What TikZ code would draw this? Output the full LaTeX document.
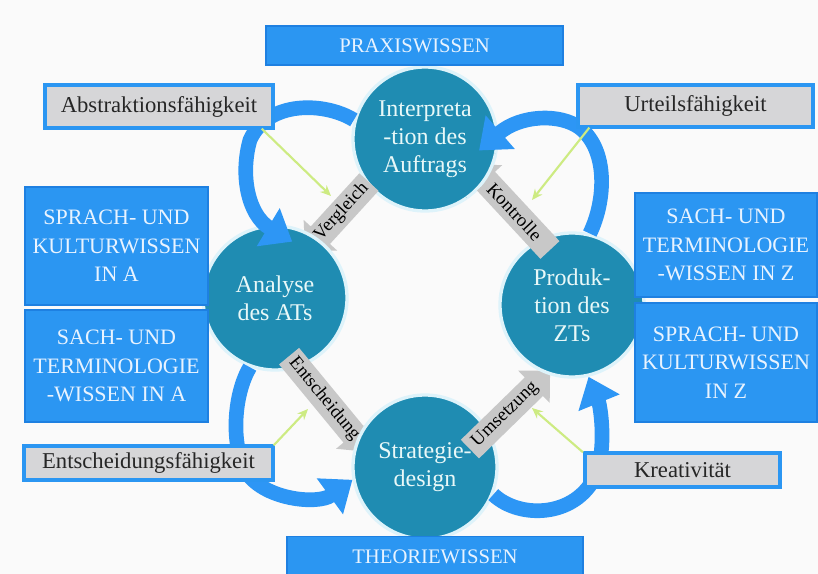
\documentclass[tikz,border=0pt]{standalone}
\usepackage{fontspec}
\setmainfont{Liberation Serif}
\usetikzlibrary{arrows.meta,calc}
\definecolor{bgcol}{RGB}{250,250,250}
\definecolor{boxblue}{RGB}{43,150,242}
\definecolor{boxedge}{RGB}{30,128,225}
\definecolor{boxtext}{RGB}{232,243,255}
\definecolor{tealc}{RGB}{31,140,178}
\definecolor{glow}{RGB}{222,243,250}
\definecolor{circtext}{RGB}{232,248,248}
\definecolor{greyfill}{RGB}{214,214,216}
\definecolor{arrowgrey}{RGB}{200,200,200}
\definecolor{arcblue}{RGB}{45,150,245}
\definecolor{hintgreen}{RGB}{205,235,130}
\newcommand\garrow[6]{%
  \begin{scope}[shift={#2}, rotate=#3]
    \fill[arrowgrey, xscale=#5, x=1pt, y=1pt]
      (-#4/2,-9.75) -- (#4/2-17,-9.75) -- (#4/2-17,-17) -- (#4/2,0)
      -- (#4/2-17,17) -- (#4/2-17,9.75) -- (-#4/2,9.75) -- cycle;
    \node[arrowtext, transform shape] (#1) at (-#5*5pt,0pt) {#6};
  \end{scope}}
\begin{document}
\begin{tikzpicture}[x=0.75pt,y=-0.75pt,
  bluebox/.style={rectangle, fill=boxblue, draw=boxedge, line width=1.2pt,
    text=boxtext, align=center, inner sep=0pt,
    font=\fontsize{16.5}{21.5}\selectfont},
  greybox/.style={rectangle, fill=greyfill, draw=boxblue, line width=3pt,
    text=black!85, inner sep=0pt, font=\fontsize{17}{20}\selectfont},
  phase/.style={circle, fill=tealc, draw=glow, line width=2.5pt,
    minimum size=108pt, inner sep=0pt, align=center, text=circtext,
    font=\fontsize{18}{21}\selectfont},
  arrowtext/.style={inner sep=0pt, text=black, font=\fontsize{14}{14}\selectfont},
  curvearrow/.style={draw=arcblue, line width=11pt,
    -{Triangle[length=21pt,width=32pt]}},
  hint/.style={draw=hintgreen, line width=1.6pt,
    -{Stealth[length=8pt,width=7pt]}}
]
\useasboundingbox (0,0) rectangle (818,574);
\fill[bgcol] (0,0) rectangle (818,574);

% phases and grey block arrows: each arrow lies over its source, under its target
\node[phase] (interp) at (425,139) {Interpreta\\-tion des\\Auftrags};
\garrow{vergl}{(337,217)}{47.6}{71}{-1}{Vergleich}
\node[phase] (analyse) at (275,298) {Analyse\\des ATs};
\garrow{entsch}{(328.5,404)}{-50.5}{93}{1}{Entscheidung}
\node[phase] (strat) at (425,467) {Strategie-\\design};
\garrow{umsetz}{(510,410)}{44.3}{84}{1}{Umsetzung}
\node[phase] (prod) at (572,305) {Produk-\\tion des\\ZTs};
\garrow{kontr}{(510,207)}{-47.1}{88}{-1}{Kontrolle}
% the head of "Kontrolle" goes under the first phase
\begin{scope}[shift={(510,207)}, rotate=-47.1]
  \clip[x=1pt,y=1pt] (-46,-19) rectangle (-26,19);
  \node[phase] (interpB) at (interp.center) {Interpreta\\-tion des\\Auftrags};
\end{scope}

% curved arrows
\draw[curvearrow] (interp.165) .. controls (325,102) and (268,100) .. (250,140)
  .. controls (240,175) and (248,215) .. ($(analyse.center)!0.8!(analyse.73)$);
\draw[curvearrow] (prod.76) .. controls (606,200) and (608,150) .. (580,128)
  .. controls (560,113) and (520,115) .. ($(interp.center)!0.75!(interp.-12)$);
\draw[curvearrow] (analyse.250) .. controls (235,392) and (230,440) .. (245,470)
  .. controls (262,500) and (318,505) .. (strat.190);
\draw[curvearrow] (strat.-22) .. controls (520,520) and (580,518) .. (598,470)
  .. controls (606,440) and (600,405) .. (prod.-77);

% knowledge boxes
\node[bluebox, minimum width=222.75pt, minimum height=29.25pt,
  font=\fontsize{15.5}{18}\selectfont] (praxis) at (414.5,45.5) {PRAXISWISSEN};
\node[bluebox, minimum width=222pt, minimum height=30pt,
  font=\fontsize{15.5}{18}\selectfont] (theorie) at (435,556.5) {THEORIEWISSEN};
\node[bluebox, minimum width=137.25pt, minimum height=88.5pt] (spracha) at (116.5,246) {SPRACH- UND\\KULTURWISSEN\\IN A};
\node[bluebox, minimum width=137.25pt, minimum height=84pt] (sacha) at (116.5,366) {SACH- UND\\TERMINOLOGIE\\-WISSEN IN A};
\node[bluebox, minimum width=136.5pt, minimum height=78pt] (sachz) at (726,245) {SACH- UND\\TERMINOLOGIE\\-WISSEN IN Z};
\node[bluebox, minimum width=136.5pt, minimum height=89.25pt] (sprachz) at (726,362.5) {SPRACH- UND\\KULTURWISSEN\\IN Z};

% ability boxes
\node[greybox, minimum width=171pt, minimum height=32.25pt] (abstr) at (159,106.5) {Abstraktionsfähigkeit};
\node[greybox, minimum width=176.25pt, minimum height=31.5pt] (urteil) at (695.5,106) {Urteilsfähigkeit};
\node[greybox, minimum width=186.75pt, minimum height=25.5pt] (entschf) at (148.5,463) {Entscheidungsfähigkeit};
\node[greybox, minimum width=146.25pt, minimum height=25.5pt] (kreat) at (682.5,470) {Kreativität};

% green hint arrows
\coordinate (h1) at (331,196);
\coordinate (h2) at (532,200);
\coordinate (h3) at (308,409);
\coordinate (h4) at (532,408);
\draw[hint] ([xshift=-10pt,yshift=1pt]abstr.south east) -- (h1);
\draw[hint] ([xshift=10pt,yshift=1pt]urteil.south west) -- (h2);
\draw[hint] ([xshift=-1pt,yshift=-1pt]entschf.north east) -- (h3);
\draw[hint] ([xshift=0pt,yshift=-1pt]kreat.north west) -- (h4);
\end{tikzpicture}
\end{document}
